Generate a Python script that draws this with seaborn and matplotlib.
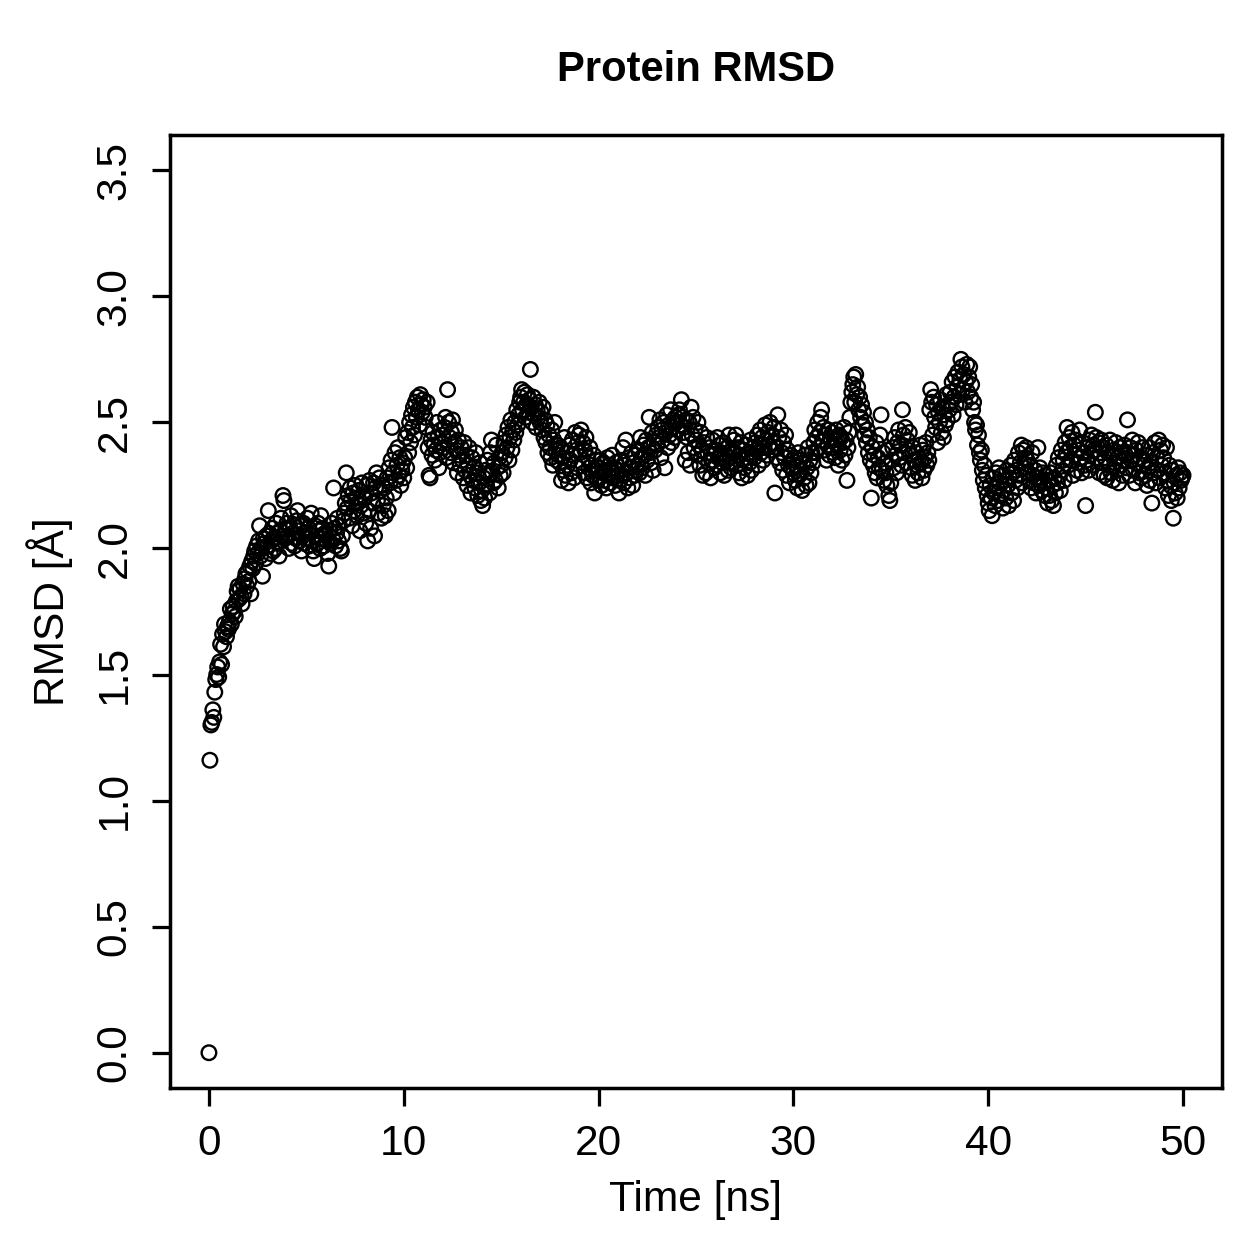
import numpy as np
import pandas as pd
import matplotlib
matplotlib.use("Agg")
import matplotlib.pyplot as plt
import seaborn as sns

#%% data: protein backbone RMSD, one frame every 0.05 ns
time_step_ns = 0.05

rmsd = [0.00,
    # 0-1 ns
    1.16, 1.30, 1.31, 1.36, 1.33, 1.43, 1.48, 1.50, 1.53, 1.49, 1.55, 1.62, 1.54, 1.66, 1.61, 1.70, 1.67, 1.65, 1.69, 1.68,
    # 1-2
    1.71, 1.76, 1.70, 1.74, 1.77, 1.75, 1.73, 1.79, 1.83, 1.85, 1.80, 1.84, 1.81, 1.78, 1.86, 1.82, 1.88, 1.90, 1.85, 1.91,
    # 2-3
    1.87, 1.93, 1.82, 1.95, 1.92, 1.97, 1.99, 1.94, 2.01, 1.98, 2.03, 2.09, 1.97, 2.00, 1.89, 2.04, 2.02, 1.96, 2.05, 2.01,
    # 3-4
    2.15, 2.06, 1.98, 2.03, 2.08, 1.99, 2.04, 2.00, 2.10, 2.06, 2.02, 1.97, 2.07, 2.12, 2.05, 2.21, 2.19, 2.04, 2.08, 2.10,
    # 4-5
    2.05, 2.00, 2.08, 2.13, 2.02, 2.06, 2.09, 2.01, 2.04, 2.11, 2.15, 2.07, 2.03, 2.09, 1.99, 2.05, 2.10, 2.02, 2.06, 2.04,
    # 5-6
    2.12, 2.08, 2.01, 2.06, 2.14, 2.03, 1.99, 1.96, 2.09, 2.05, 2.02, 2.10, 2.07, 2.00, 2.13, 2.04, 2.08, 2.01, 2.06, 2.05,
    # 6-7
    2.03, 1.98, 1.93, 2.07, 2.02, 2.10, 2.04, 2.24, 2.08, 2.01, 2.06, 2.12, 2.03, 2.09, 2.00, 1.99, 2.05, 2.11, 2.14, 2.18,
    # 7-8
    2.30, 2.16, 2.21, 2.12, 2.24, 2.19, 2.09, 2.22, 2.15, 2.25, 2.20, 2.13, 2.18, 2.23, 2.07, 2.17, 2.26, 2.21, 2.14, 2.20,
    # 8-9
    2.10, 2.25, 2.03, 2.15, 2.27, 2.08, 2.22, 2.18, 2.26, 2.05, 2.24, 2.30, 2.19, 2.14, 2.28, 2.23, 2.12, 2.25, 2.17, 2.24,
    # 9-10
    2.13, 2.20, 2.28, 2.15, 2.32, 2.26, 2.35, 2.48, 2.30, 2.22, 2.38, 2.27, 2.33, 2.40, 2.29, 2.36, 2.25, 2.31, 2.34, 2.28,
    # 10-11
    2.36, 2.44, 2.32, 2.46, 2.38, 2.50, 2.42, 2.53, 2.48, 2.56, 2.45, 2.58, 2.52, 2.60, 2.55, 2.49, 2.61, 2.57, 2.54, 2.59,
    # 11-12
    2.56, 2.52, 2.48, 2.58, 2.40, 2.29, 2.28, 2.43, 2.37, 2.46, 2.41, 2.35, 2.39, 2.50, 2.44, 2.32, 2.38, 2.47, 2.42, 2.45,
    # 12-13
    2.40, 2.48, 2.52, 2.36, 2.63, 2.50, 2.44, 2.38, 2.46, 2.51, 2.34, 2.42, 2.47, 2.39, 2.30, 2.43, 2.37, 2.33, 2.40, 2.35,
    # 13-14
    2.28, 2.42, 2.31, 2.37, 2.25, 2.33, 2.40, 2.29, 2.22, 2.36, 2.27, 2.32, 2.24, 2.38, 2.30, 2.21, 2.26, 2.34, 2.19, 2.23,
    # 14-15
    2.17, 2.28, 2.20, 2.31, 2.25, 2.35, 2.29, 2.22, 2.38, 2.43, 2.30, 2.26, 2.34, 2.27, 2.41, 2.32, 2.24, 2.36, 2.29, 2.33,
    # 15-16
    2.38, 2.30, 2.42, 2.36, 2.45, 2.40, 2.48, 2.35, 2.44, 2.51, 2.39, 2.47, 2.43, 2.50, 2.46, 2.55, 2.49, 2.53, 2.58, 2.60,
    # 16-17
    2.63, 2.55, 2.58, 2.62, 2.52, 2.57, 2.61, 2.54, 2.59, 2.71, 2.56, 2.50, 2.60, 2.53, 2.57, 2.48, 2.55, 2.52, 2.58, 2.50,
    # 17-18
    2.54, 2.47, 2.56, 2.44, 2.51, 2.42, 2.49, 2.38, 2.45, 2.40, 2.36, 2.47, 2.33, 2.43, 2.50, 2.39, 2.35, 2.41, 2.37, 2.34,
    # 18-19
    2.40, 2.27, 2.36, 2.31, 2.44, 2.29, 2.38, 2.33, 2.26, 2.41, 2.35, 2.30, 2.43, 2.37, 2.28, 2.46, 2.39, 2.32, 2.42, 2.45,
    # 19-20
    2.38, 2.47, 2.34, 2.42, 2.30, 2.39, 2.44, 2.28, 2.36, 2.32, 2.40, 2.26, 2.33, 2.29, 2.37, 2.22, 2.31, 2.35, 2.27, 2.32,
    # 20-21
    2.28, 2.35, 2.25, 2.30, 2.34, 2.27, 2.31, 2.24, 2.36, 2.29, 2.33, 2.26, 2.30, 2.37, 2.28, 2.32, 2.25, 2.34, 2.29, 2.31,
    # 21-22
    2.22, 2.27, 2.35, 2.29, 2.40, 2.26, 2.33, 2.43, 2.30, 2.24, 2.36, 2.28, 2.32, 2.38, 2.25, 2.34, 2.29, 2.37, 2.31, 2.33,
    # 22-23
    2.39, 2.30, 2.44, 2.36, 2.32, 2.41, 2.37, 2.29, 2.43, 2.35, 2.40, 2.52, 2.38, 2.34, 2.46, 2.31, 2.42, 2.39, 2.45, 2.41,
    # 23-24
    2.48, 2.44, 2.51, 2.36, 2.47, 2.43, 2.50, 2.32, 2.46, 2.53, 2.40, 2.49, 2.45, 2.55, 2.42, 2.48, 2.51, 2.44, 2.52, 2.50,
    # 24-25
    2.47, 2.53, 2.55, 2.49, 2.59, 2.52, 2.46, 2.48, 2.35, 2.51, 2.44, 2.38, 2.50, 2.33, 2.56, 2.45, 2.52, 2.40, 2.47, 2.43,
    # 25-26
    2.37, 2.50, 2.41, 2.33, 2.46, 2.39, 2.29, 2.42, 2.36, 2.30, 2.44, 2.38, 2.34, 2.40, 2.28, 2.35, 2.43, 2.37, 2.32, 2.39,
    # 26-27
    2.33, 2.44, 2.36, 2.41, 2.30, 2.38, 2.34, 2.42, 2.29, 2.37, 2.35, 2.40, 2.31, 2.45, 2.36, 2.32, 2.39, 2.34, 2.43, 2.38,
    # 27-28
    2.45, 2.33, 2.40, 2.30, 2.37, 2.42, 2.28, 2.35, 2.39, 2.32, 2.41, 2.36, 2.29, 2.38, 2.34, 2.43, 2.31, 2.37, 2.40, 2.36,
    # 28-29
    2.42, 2.39, 2.45, 2.33, 2.41, 2.47, 2.38, 2.44, 2.35, 2.40, 2.49, 2.43, 2.37, 2.46, 2.41, 2.50, 2.39, 2.45, 2.42, 2.48,
    # 29-30
    2.22, 2.40, 2.36, 2.53, 2.44, 2.34, 2.47, 2.38, 2.31, 2.42, 2.36, 2.45, 2.29, 2.39, 2.33, 2.26, 2.37, 2.32, 2.35, 2.30,
    # 30-31
    2.36, 2.27, 2.33, 2.24, 2.38, 2.29, 2.35, 2.31, 2.23, 2.34, 2.28, 2.37, 2.25, 2.32, 2.40, 2.26, 2.35, 2.30, 2.38, 2.34,
    # 31-32
    2.42, 2.47, 2.38, 2.44, 2.50, 2.40, 2.46, 2.52, 2.55, 2.43, 2.48, 2.39, 2.45, 2.35, 2.41, 2.47, 2.37, 2.44, 2.40, 2.46,
    # 32-33
    2.38, 2.43, 2.36, 2.47, 2.41, 2.33, 2.45, 2.39, 2.44, 2.35, 2.42, 2.48, 2.37, 2.43, 2.27, 2.40, 2.46, 2.52, 2.58, 2.62,
    # 33-34
    2.65, 2.68, 2.58, 2.69, 2.61, 2.64, 2.55, 2.60, 2.52, 2.57, 2.49, 2.54, 2.45, 2.50, 2.42, 2.47, 2.38, 2.44, 2.35, 2.20,
    # 34-35
    2.40, 2.33, 2.37, 2.30, 2.42, 2.28, 2.36, 2.32, 2.45, 2.53, 2.31, 2.38, 2.27, 2.34, 2.30, 2.25, 2.39, 2.21, 2.19, 2.26,
    # 35-36
    2.35, 2.40, 2.32, 2.44, 2.37, 2.30, 2.42, 2.47, 2.36, 2.41, 2.33, 2.55, 2.45, 2.38, 2.48, 2.34, 2.43, 2.39, 2.46, 2.37,
    # 36-37
    2.32, 2.29, 2.40, 2.35, 2.27, 2.38, 2.33, 2.30, 2.36, 2.41, 2.34, 2.28, 2.39, 2.31, 2.36, 2.42, 2.33, 2.38, 2.35, 2.55,
    # 37-38
    2.63, 2.58, 2.45, 2.60, 2.52, 2.48, 2.57, 2.42, 2.54, 2.50, 2.59, 2.46, 2.56, 2.44, 2.53, 2.49, 2.61, 2.51, 2.57, 2.55,
    # 38-39
    2.62, 2.58, 2.66, 2.53, 2.60, 2.68, 2.57, 2.64, 2.70, 2.61, 2.67, 2.75, 2.72, 2.63, 2.69, 2.58, 2.66, 2.73, 2.62, 2.68,
    # 39-40
    2.72, 2.60, 2.65, 2.55, 2.58, 2.50, 2.47, 2.49, 2.41, 2.45, 2.38, 2.35, 2.39, 2.31, 2.27, 2.33, 2.24, 2.29, 2.21, 2.18,
    # 40-41
    2.15, 2.25, 2.20, 2.13, 2.28, 2.22, 2.17, 2.30, 2.24, 2.19, 2.32, 2.26, 2.21, 2.29, 2.16, 2.23, 2.27, 2.20, 2.31, 2.25,
    # 41-42
    2.17, 2.28, 2.33, 2.22, 2.30, 2.19, 2.35, 2.27, 2.31, 2.24, 2.38, 2.29, 2.34, 2.41, 2.26, 2.39, 2.32, 2.36, 2.40, 2.35,
    # 42-43
    2.30, 2.27, 2.33, 2.24, 2.38, 2.29, 2.26, 2.31, 2.22, 2.28, 2.40, 2.25, 2.32, 2.27, 2.23, 2.30, 2.26, 2.21, 2.29, 2.24,
    # 43-44
    2.18, 2.27, 2.21, 2.30, 2.19, 2.25, 2.17, 2.28, 2.22, 2.33, 2.26, 2.36, 2.29, 2.23, 2.39, 2.31, 2.35, 2.27, 2.42, 2.38,
    # 44-45
    2.48, 2.33, 2.44, 2.40, 2.35, 2.46, 2.29, 2.41, 2.37, 2.43, 2.31, 2.39, 2.34, 2.47, 2.36, 2.30, 2.42, 2.38, 2.33, 2.17,
    # 45-46
    2.35, 2.40, 2.31, 2.43, 2.37, 2.45, 2.33, 2.41, 2.39, 2.54, 2.44, 2.36, 2.42, 2.30, 2.38, 2.43, 2.34, 2.40, 2.29, 2.36,
    # 46-47
    2.41, 2.28, 2.38, 2.33, 2.43, 2.30, 2.37, 2.27, 2.39, 2.34, 2.42, 2.31, 2.36, 2.26, 2.40, 2.33, 2.38, 2.29, 2.35, 2.41,
    # 47-48
    2.37, 2.32, 2.51, 2.38, 2.29, 2.40, 2.35, 2.43, 2.31, 2.37, 2.26, 2.39, 2.34, 2.42, 2.30, 2.36, 2.28, 2.40, 2.33, 2.35,
    # 48-49
    2.29, 2.37, 2.25, 2.32, 2.40, 2.27, 2.34, 2.18, 2.38, 2.30, 2.42, 2.26, 2.36, 2.31, 2.43, 2.28, 2.39, 2.33, 2.41, 2.36,
    # 49-50
    2.30, 2.24, 2.40, 2.27, 2.21, 2.33, 2.25, 2.19, 2.31, 2.12, 2.26, 2.22, 2.29, 2.20, 2.32, 2.24, 2.30, 2.27, 2.28, 2.29,
]

df = pd.DataFrame({"rmsd": rmsd})
df["time"] = np.arange(len(df)) * time_step_ns

x_ticks = [0, 10, 20, 30, 40, 50]
y_ticks = [0.0, 0.5, 1.0, 1.5, 2.0, 2.5, 3.0, 3.5]

#%% plot (base-R look)
sns.set_style("ticks")
plt.rcParams["font.family"] = ["Liberation Sans", "DejaVu Sans"]
plt.rcParams["text.color"] = "black"
plt.rcParams["axes.labelcolor"] = "black"

fig = plt.figure(figsize=(1259 / 180, 1259 / 180), dpi=180)
ax = fig.add_axes([0.135, 0.1358, 0.8356, 0.757])

sns.scatterplot(data=df, x="time", y="rmsd", ax=ax, marker="o", s=34,
                facecolor="none", edgecolor="black", linewidth=0.95, legend=False)

ax.set_xlim(-2, 52)
ax.set_ylim(-0.14, 3.64)
ax.set_xticks(x_ticks)
ax.set_xticklabels([str(t) for t in x_ticks])
ax.set_yticks(y_ticks)
ax.set_yticklabels([f"{t:.1f}" for t in y_ticks], rotation=90, va="center")

for side in ["top", "right", "bottom", "left"]:
    ax.spines[side].set_visible(True)
    ax.spines[side].set_linewidth(1.4)
    ax.spines[side].set_color("black")
ax.tick_params(direction="out", length=7.2, width=1.3, color="black",
               labelsize=17, pad=7, labelcolor="black")
ax.grid(False)

ax.set_xlabel("Time [ns]", fontsize=17, color="black")
ax.set_ylabel("RMSD [Å]", fontsize=17, color="black")
ax.xaxis.set_label_coords(0.5, -0.1175)
ax.xaxis.label.set_va("center")
ax.yaxis.set_label_coords(-0.114, 0.5)
ax.yaxis.label.set_va("center")
ax.set_title("Protein RMSD", fontsize=16.7, fontweight="bold", color="black",
             y=1.068, va="center", pad=0)

fig.savefig("out.png", dpi=180, facecolor="white")
